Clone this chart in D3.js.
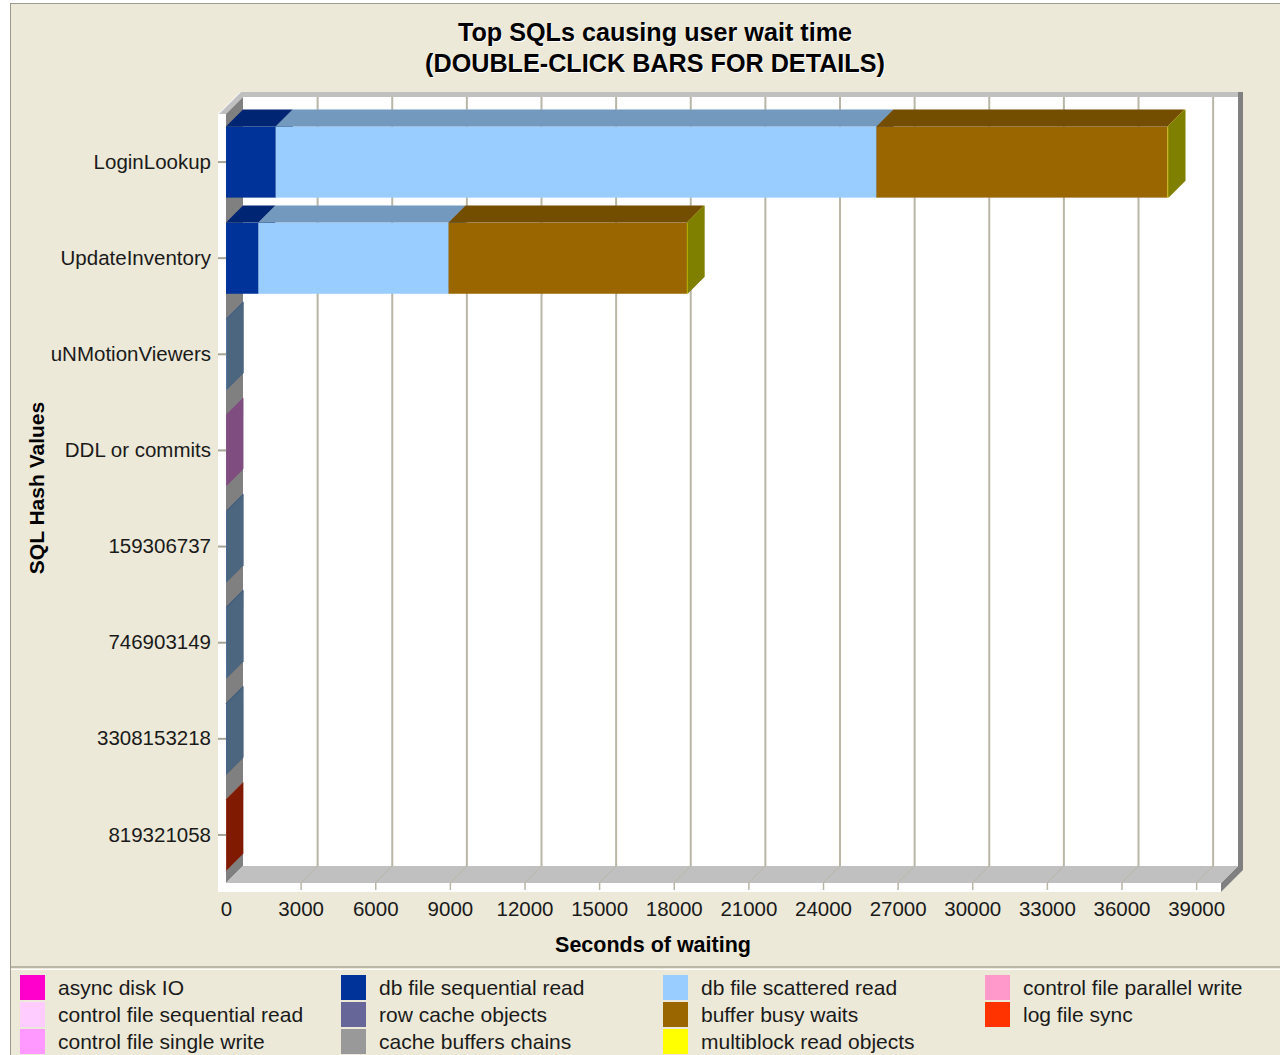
<!DOCTYPE html>
<html>
<head>
<meta charset="utf-8">
<script src="https://cdn.jsdelivr.net/npm/d3@7"></script>
<style>
  html, body { margin: 0; padding: 0; background: #ffffff; }
  svg { display: block; font-family: "Liberation Sans", Arial, sans-serif; }
</style>
</head>
<body>
<svg id="chart" width="1280" height="1055"></svg>
<script>
// SQL statements (rows of the horizontal stacked bar chart)
const categories = ["LoginLookup", "UpdateInventory", "uNMotionViewers", "DDL or commits",
                    "159306737", "746903149", "3308153218", "819321058"];

// Wait events, in stacking / legend order
const seriesNames = ["async disk IO", "db file sequential read", "db file scattered read",
                     "control file parallel write", "control file sequential read", "row cache objects",
                     "buffer busy waits", "log file sync", "control file single write",
                     "cache buffers chains", "multiblock read objects"];
const seriesColors = ["#FF00CC", "#003399", "#99CCFF", "#FF99CC", "#FFCCFF", "#666699",
                      "#996600", "#FF3300", "#FF99FF", "#999999", "#FFFF00"];

// Seconds of waiting per SQL, one array per wait event
const asyncDiskIO               = [0, 0, 0, 0, 0, 0, 0, 0];
const dbFileSequentialRead      = [2000, 1300, 6, 0, 5, 4, 5, 0];
const dbFileScatteredRead       = [24150, 7650, 22, 0, 18, 20, 16, 0];
const controlFileParallelWrite  = [0, 0, 0, 4, 0, 0, 0, 0];
const controlFileSequentialRead = [0, 0, 0, 2, 0, 0, 0, 0];
const rowCacheObjects           = [0, 0, 0, 0, 0, 0, 0, 0];
const bufferBusyWaits           = [11700, 9580, 0, 0, 0, 0, 0, 0];
const logFileSync               = [0, 0, 0, 0, 0, 0, 0, 14];
const controlFileSingleWrite    = [0, 0, 0, 6, 0, 0, 0, 0];
const cacheBuffersChains        = [0, 0, 0, 0, 0, 0, 0, 0];
const multiblockReadObjects     = [40, 30, 0, 0, 0, 0, 0, 0];

const seriesValues = [asyncDiskIO, dbFileSequentialRead, dbFileScatteredRead, controlFileParallelWrite,
                      controlFileSequentialRead, rowCacheObjects, bufferBusyWaits, logFileSync,
                      controlFileSingleWrite, cacheBuffersChains, multiblockReadObjects];

// Axis ticks
const xTickValues = [0, 3000, 6000, 9000, 12000, 15000, 18000, 21000, 24000, 27000, 30000, 33000, 36000, 39000];
const xMax = 40000;

const titleLines = ["Top SQLs causing user wait time", "(DOUBLE-CLICK BARS FOR DETAILS)"];
const xTitle = "Seconds of waiting";
const yTitle = "SQL Hash Values";

// ---------------------------------------------------------------------------
const svg = d3.select("#chart");
const BG = "#ECE9D8";
const depth = 17;                    // 3D offset (right and up)
const front = { left: 226, right: 1221, top: 114, bottom: 883 };

const x = d3.scaleLinear().domain([0, xMax]).range([front.left, front.right]);
const y = d3.scaleBand().domain(categories).range([front.top, front.bottom])
  .paddingInner(0.26).paddingOuter(0.13);

const shade = (c, k) => { const r = d3.rgb(c); return d3.rgb(r.r * k, r.g * k, r.b * k).formatHex(); };
const pts = a => a.map(p => p.join(",")).join(" ");

// page background and outer frame
svg.append("rect").attr("x", 10).attr("y", 3).attr("width", 1270).attr("height", 1052).attr("fill", BG);
svg.append("line").attr("x1", 10.5).attr("x2", 10.5).attr("y1", 3).attr("y2", 1055).attr("stroke", "#9d9b8f").attr("stroke-width", 1);
svg.append("line").attr("x1", 10).attr("x2", 1280).attr("y1", 3.5).attr("y2", 3.5).attr("stroke", "#9d9b8f").attr("stroke-width", 1);

// white plot surround
const L = front.left, R = front.right, T = front.top, B = front.bottom, d = depth;
svg.append("polygon").attr("fill", "#ffffff")
  .attr("points", pts([[218, T], [240, 92], [R + d + 5, 92], [R + d + 5, B - d + 4], [R, 892], [218, 892]]));

// top rim (light) and right rim (dark)
svg.append("polygon").attr("fill", "#C0C0C0")
  .attr("points", pts([[219, T], [241, 92], [R + d, 92], [R + d, T - d], [L + d, T - d], [L, T]]));
svg.append("polygon").attr("fill", "#808080")
  .attr("points", pts([[R + d, T - d], [R + d, 92], [R + d + 5, 92], [R + d + 5, B - d + 4], [R, 892], [R, B], [R + d, B - d]]));

// side wall, floor, back wall
svg.append("polygon").attr("fill", "#808080")
  .attr("points", pts([[L, T], [L + d, T - d], [L + d, B - d], [L, B]]));
svg.append("polygon").attr("fill", "#C0C0C0")
  .attr("points", pts([[L, B], [L + d, B - d], [R + d, B - d], [R, B]]));
svg.append("rect").attr("x", L + d).attr("y", T - d).attr("width", R - L).attr("height", B - T).attr("fill", "#ffffff");

// grid lines on back wall and floor
const gridColor = "#b9b6a6";
const gridTicks = xTickValues.filter(v => v > 0);
const grid = svg.append("g").attr("stroke", gridColor).attr("fill", "none");
gridTicks.forEach(v => {
  const gx = x(v);
  grid.append("line").attr("x1", gx + d).attr("x2", gx + d).attr("y1", T - d).attr("y2", B - d).attr("stroke-width", 2);
  grid.append("line").attr("x1", gx + d).attr("x2", gx).attr("y1", B - d).attr("y2", B).attr("stroke-width", 1);
});

// stacked 3D bars
const rows = categories.map((c, i) => {
  const r = { category: c };
  seriesNames.forEach((s, k) => { r[s] = seriesValues[k][i]; });
  return r;
});
const stacked = d3.stack().keys(seriesNames)(rows);
const bw = y.bandwidth();
const bars = svg.append("g");
stacked.forEach((layer, k) => {
  const col = seriesColors[k];
  layer.forEach(seg => {
    if (seg[1] <= seg[0]) return;
    const yt = y(seg.data.category), yb = yt + bw;
    const x0 = x(seg[0]), x1 = x(seg[1]);
    bars.append("rect").attr("x", x0).attr("y", yt).attr("width", x1 - x0).attr("height", bw).attr("fill", col);
    bars.append("polygon").attr("fill", shade(col, 0.75))
      .attr("points", pts([[x0, yt], [x0 + d, yt - d], [x1 + d, yt - d], [x1, yt]]));
    bars.append("polygon").attr("fill", shade(col, 0.5))
      .attr("points", pts([[x1, yt], [x1 + d, yt - d], [x1 + d, yb - d], [x1, yb]]));
  });
});

// axes
const tickFont = "20.5px";
const xAxis = d3.axisBottom(x).tickValues(xTickValues).tickSize(7).tickPadding(11).tickFormat(d3.format("d"));
const gx = svg.append("g").attr("transform", `translate(0,${B})`).call(xAxis);
gx.select(".domain").remove();
gx.selectAll(".tick line").attr("stroke", gridColor).attr("stroke-width", 1.5);
gx.selectAll(".tick text").attr("font-size", tickFont).attr("fill", "#1a1a1a").attr("font-family", "'Liberation Sans', Arial, sans-serif");
gx.selectAll(".tick").filter(v => v === 0).select("line").remove();

const yAxis = d3.axisLeft(y).tickSize(8).tickPadding(7);
const gy = svg.append("g").attr("transform", `translate(${L},0)`).call(yAxis);
gy.select(".domain").remove();
gy.selectAll(".tick line").attr("stroke", "#a5a396").attr("stroke-width", 2);
gy.selectAll(".tick text").attr("font-size", tickFont).attr("fill", "#1a1a1a").attr("font-family", "'Liberation Sans', Arial, sans-serif");

// titles
const title = svg.append("g").attr("text-anchor", "middle").attr("font-weight", "bold").attr("font-size", "25.2px");
titleLines.forEach((t, i) => {
  title.append("text").attr("x", 656).attr("y", 42 + i * 31).attr("fill", "#ffffff").text(t);
  title.append("text").attr("x", 655).attr("y", 41 + i * 31).attr("fill", "#000000").text(t);
});
svg.append("text").attr("x", 653).attr("y", 952).attr("text-anchor", "middle")
  .attr("font-weight", "bold").attr("font-size", "21.5px").attr("fill", "#000").text(xTitle);
svg.append("text").attr("transform", "translate(37,488) rotate(-90)").attr("dy", "0.35em")
  .attr("text-anchor", "middle").attr("font-weight", "bold").attr("font-size", "21px").attr("fill", "#000").text(yTitle);

// legend
svg.append("line").attr("x1", 11).attr("x2", 1280).attr("y1", 967).attr("y2", 967).attr("stroke", "#a9a797").attr("stroke-width", 1.5);
svg.append("line").attr("x1", 11).attr("x2", 1280).attr("y1", 969.5).attr("y2", 969.5).attr("stroke", "#ffffff").attr("stroke-width", 1);
const legCols = [20, 341, 663, 985];
const legRows = [975, 1002, 1029];
const legend = svg.append("g");
seriesNames.forEach((s, k) => {
  const cx = legCols[k % 4], cy = legRows[Math.floor(k / 4)];
  legend.append("rect").attr("x", cx).attr("y", cy).attr("width", 25).attr("height", 25).attr("fill", seriesColors[k]);
  legend.append("text").attr("x", cx + 38).attr("y", cy + 13).attr("dy", "0.35em")
    .attr("font-size", "21px").attr("fill", "#1a1a1a").text(s);
});
</script>
</body>
</html>
